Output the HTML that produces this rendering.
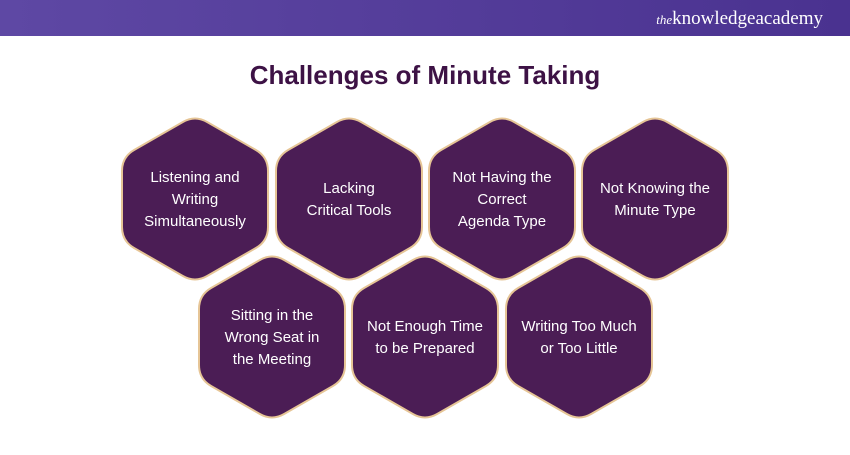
<!DOCTYPE html>
<html><head><meta charset="utf-8"><style>
body{margin:0;width:850px;height:450px;overflow:hidden;background:#fff;font-family:"Liberation Sans",sans-serif}
</style></head><body>
<svg id="s" width="850" height="450" viewBox="0 0 850 450" xmlns="http://www.w3.org/2000/svg">
<defs><linearGradient id="g" x1="0" x2="1"><stop offset="0" stop-color="#5e48a4"/><stop offset="1" stop-color="#4a3290"/></linearGradient></defs>
<rect width="850" height="36" fill="url(#g)"/>
<text x="823" y="24" text-anchor="end" fill="#fff" font-family="Liberation Serif,serif" font-size="19"><tspan font-style="italic" font-size="13">the</tspan>knowledgeacademy</text>
<text x="425" y="84" text-anchor="middle" fill="#3d1245" font-weight="bold" font-size="26">Challenges of Minute Taking</text>
<g id="hx" fill="#4b1d55" stroke="#e6c596" stroke-width="2"></g>
<g fill="#fff" font-size="15" text-anchor="middle">
<text x="195" y="182">Listening and</text><text x="195" y="204">Writing</text><text x="195" y="226">Simultaneously</text>
<text x="349" y="193">Lacking</text><text x="349" y="215">Critical Tools</text>
<text x="502" y="182">Not Having the</text><text x="502" y="204">Correct</text><text x="502" y="226">Agenda Type</text>
<text x="655" y="193">Not Knowing the</text><text x="655" y="215">Minute Type</text>
<text x="272" y="320">Sitting in the</text><text x="272" y="342">Wrong Seat in</text><text x="272" y="364">the Meeting</text>
<text x="425" y="331">Not Enough Time</text><text x="425" y="353">to be Prepared</text>
<text x="579" y="331">Writing Too Much</text><text x="579" y="353">or Too Little</text>
</g>
</svg>
<script>
var C=[[195,199],[349,199],[502,199],[655,199],[272,337],[425,337],[579,337]];
var g=document.getElementById('hx'),r=14;
C.forEach(function(c){
 var x=c[0],y=c[1],w=73,h=84;
 var P=[[x,y-h],[x+w,y-h/2],[x+w,y+h/2],[x,y+h],[x-w,y+h/2],[x-w,y-h/2]];
 var d='';
 for(var i=0;i<6;i++){
  var p=P[i],a=P[(i+5)%6],b=P[(i+1)%6];
  function t(q){var dx=q[0]-p[0],dy=q[1]-p[1],l=Math.hypot(dx,dy);return [p[0]+dx/l*r,p[1]+dy/l*r];}
  var s=t(a),e=t(b);
  d+=(i?'L':'M')+s[0].toFixed(1)+','+s[1].toFixed(1)+'Q'+p[0]+','+p[1]+' '+e[0].toFixed(1)+','+e[1].toFixed(1);
 }
 var el=document.createElementNS('http://www.w3.org/2000/svg','path');
 el.setAttribute('d',d+'Z');g.appendChild(el);
});
</script>
</body></html>
